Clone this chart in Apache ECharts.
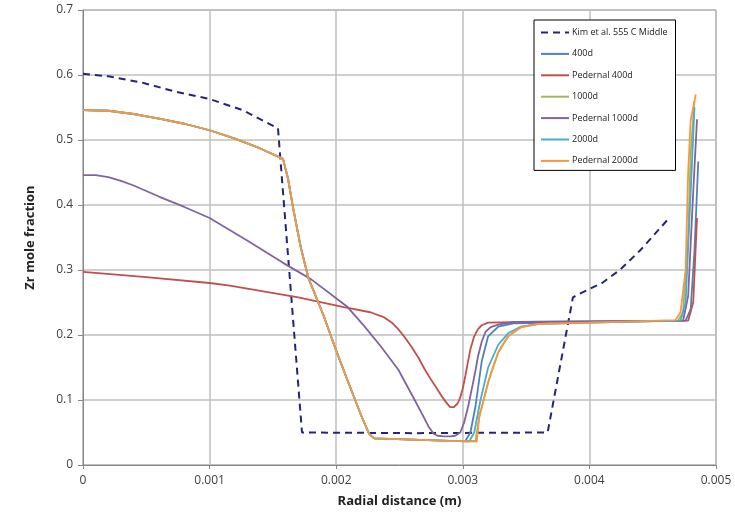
<!DOCTYPE html>
<html>
<head>
<meta charset="utf-8">
<script src="https://cdn.jsdelivr.net/npm/echarts@6/dist/echarts.min.js"></script>
<style>
  html, body { margin: 0; padding: 0; background: #fff; }
  #main { width: 735px; height: 517px; }
</style>
</head>
<body>
<div id="main"></div>
<script>
// series names as in the legend
var names = ['Kim et al. 555 C Middle', '400d', 'Pedernal 400d', '1000d', 'Pedernal 1000d', '2000d', 'Pedernal 2000d'];

// [radial distance (m), Zr mole fraction]
var kim = [[0,0.602],[0.0002,0.598],[0.00047,0.588],[0.00074,0.574],[0.001,0.563],[0.00126,0.546],[0.00154,0.518],
  [0.00173,0.05],[0.0026,0.049],[0.00367,0.05],[0.00387,0.258],[0.00395,0.266],[0.0041,0.28],[0.00424,0.30],[0.0044,0.33],[0.00463,0.38]];

var d400 = [[0,0.546],[0.0002,0.545],[0.0004,0.54],[0.0006,0.533],[0.0008,0.525],[0.001,0.515],[0.0012,0.502],[0.0014,0.487],
  [0.00158,0.471],[0.00162,0.44],[0.00166,0.395],[0.00172,0.335],[0.00178,0.288],[0.0019,0.23],[0.002,0.176],[0.0021,0.125],
  [0.0022,0.075],[0.00226,0.048],[0.0023,0.041],[0.0026,0.039],[0.0029,0.037],[0.00302,0.037],[0.00306,0.05],[0.0031,0.09],
  [0.00315,0.16],[0.0032,0.198],[0.00328,0.213],[0.0034,0.218],[0.004,0.22],[0.00476,0.222],[0.0048,0.24],[0.00483,0.33],[0.00486,0.467]];

var p400 = [[0,0.297],[0.0005,0.289],[0.001,0.28],[0.00116,0.276],[0.0017,0.258],[0.00206,0.243],[0.00227,0.235],[0.00238,0.227],
  [0.00244,0.219],[0.00249,0.209],[0.00254,0.197],[0.00259,0.183],[0.00265,0.165],[0.0027,0.147],[0.00275,0.131],[0.0028,0.116],
  [0.00284,0.104],[0.00287,0.096],[0.0029,0.089],[0.00293,0.089],[0.00296,0.095],[0.00298,0.104],[0.003,0.118],[0.00302,0.137],
  [0.00304,0.158],[0.00306,0.178],[0.00309,0.198],[0.00312,0.209],[0.00315,0.215],[0.0032,0.219],[0.0035,0.22],[0.004,0.221],
  [0.00478,0.222],[0.00482,0.25],[0.00485,0.38]];

var d1000 = [[0,0.546],[0.0002,0.545],[0.0004,0.54],[0.0006,0.533],[0.0008,0.525],[0.001,0.515],[0.0012,0.502],[0.0014,0.487],
  [0.00158,0.471],[0.00162,0.44],[0.00166,0.395],[0.00172,0.335],[0.00178,0.288],[0.0019,0.23],[0.002,0.176],[0.0021,0.125],
  [0.0022,0.075],[0.00226,0.048],[0.0023,0.041],[0.0026,0.039],[0.0029,0.037],[0.0031,0.037],[0.00313,0.074],
  [0.0032,0.127],[0.00328,0.173],[0.00336,0.198],[0.00346,0.212],[0.0036,0.217],[0.004,0.219],[0.0047,0.222],[0.00474,0.235],
  [0.00478,0.35],[0.0048,0.48],[0.00483,0.56]];

var p1000 = [[0,0.446],[0.0001,0.446],[0.0002,0.443],[0.0003,0.437],[0.0004,0.43],[0.0006,0.413],[0.0008,0.397],[0.001,0.38],
  [0.0013,0.345],[0.00158,0.311],[0.0018,0.286],[0.00201,0.255],[0.00209,0.243],[0.00222,0.214],[0.00235,0.183],[0.00249,0.147],
  [0.00262,0.1],[0.00268,0.078],[0.00273,0.059],[0.00277,0.048],[0.0028,0.045],[0.00285,0.044],[0.0029,0.044],[0.00294,0.045],
  [0.00298,0.05],[0.00301,0.065],[0.00304,0.088],[0.00307,0.116],[0.0031,0.145],[0.00312,0.167],[0.00315,0.19],[0.00318,0.205],
  [0.00322,0.212],[0.00328,0.216],[0.0034,0.22],[0.004,0.221],[0.00474,0.222],[0.00478,0.26],[0.00482,0.42],[0.00485,0.532]];

var d2000 = [[0,0.546],[0.0002,0.545],[0.0004,0.54],[0.0006,0.533],[0.0008,0.525],[0.001,0.515],[0.0012,0.502],[0.0014,0.487],
  [0.00158,0.471],[0.00162,0.44],[0.00166,0.395],[0.00172,0.335],[0.00178,0.288],[0.0019,0.23],[0.002,0.176],[0.0021,0.125],
  [0.0022,0.075],[0.00226,0.048],[0.0023,0.041],[0.0026,0.039],[0.0029,0.037],[0.00305,0.036],[0.00309,0.05],
  [0.00314,0.1],[0.0032,0.15],[0.00328,0.185],[0.00336,0.203],[0.00346,0.213],[0.0036,0.217],[0.004,0.219],[0.00472,0.222],
  [0.00476,0.25],[0.0048,0.42],[0.00483,0.55]];

var p2000 = [[0,0.546],[0.0002,0.545],[0.0004,0.54],[0.0006,0.533],[0.0008,0.525],[0.001,0.515],[0.0012,0.502],[0.0014,0.487],
  [0.00158,0.471],[0.00162,0.44],[0.00166,0.395],[0.00172,0.335],[0.00178,0.288],[0.0019,0.23],[0.002,0.176],[0.0021,0.125],
  [0.0022,0.075],[0.00226,0.048],[0.0023,0.041],[0.0026,0.039],[0.0029,0.037],[0.00311,0.036],[0.00313,0.074],
  [0.0032,0.127],[0.00324,0.152],[0.00328,0.173],[0.00332,0.187],[0.00336,0.198],[0.00341,0.206],[0.00346,0.212],[0.0036,0.217],
  [0.004,0.219],[0.00468,0.223],[0.00472,0.235],[0.00476,0.3],[0.00478,0.45],[0.0048,0.53],[0.00484,0.57]];

var colors = ['#24247E', '#4F81BD', '#C0504D', '#9BBB59', '#8064A2', '#4BACC6', '#F79646'];
var datas = [kim, d400, p400, d1000, p1000, d2000, p2000];

var series = datas.map(function (d, i) {
  return {
    name: names[i],
    type: 'line',
    data: d,
    symbol: 'none',
    smooth: false,
    lineStyle: {
      color: colors[i],
      width: i === 0 ? 2 : 1.8,
      type: i === 0 ? [7, 5] : 'solid'
    },
    itemStyle: { color: colors[i] },
    animation: false
  };
});

var chart = echarts.init(document.getElementById('main'));
chart.setOption({
  animation: false,
  grid: { left: 83, right: 19, top: 10, bottom: 52, show: true, borderColor: '#868686', borderWidth: 1 },
  legend: {
    orient: 'vertical',
    left: 534,
    top: 20,
    padding: [8, 8, 5, 6],
    itemWidth: 28,
    itemHeight: 10,
    itemGap: 12.4,
    backgroundColor: '#fff',
    borderColor: '#000',
    borderWidth: 1,
    borderRadius: 0,
    itemStyle: { opacity: 0 },
    textStyle: { fontFamily: 'Open Sans', fontSize: 9, color: '#222', padding: [0, 0, 0, -2] },
    data: names
  },
  xAxis: {
    type: 'value',
    min: 0, max: 0.005, interval: 0.001,
    name: 'Radial distance (m)',
    nameLocation: 'middle',
    nameGap: 30,
    nameTextStyle: { fontFamily: 'Open Sans', fontSize: 13, fontWeight: 'bold', color: '#222' },
    axisLine: { lineStyle: { color: '#868686' } },
    axisTick: { show: true, length: 4, lineStyle: { color: '#868686' } },
    axisLabel: { fontFamily: 'Open Sans', fontSize: 12, color: '#404040', margin: 10 },
    splitLine: { show: true, lineStyle: { color: '#BFBFBF', width: 1.5 } }
  },
  yAxis: {
    type: 'value',
    min: 0, max: 0.7, interval: 0.1,
    name: 'Zr mole fraction',
    nameLocation: 'middle',
    nameGap: 46,
    nameTextStyle: { fontFamily: 'Open Sans', fontSize: 13, fontWeight: 'bold', color: '#222' },
    axisLine: { show: true, lineStyle: { color: '#868686' } },
    axisTick: { show: true, length: 5, lineStyle: { color: '#868686' } },
    axisLabel: { fontFamily: 'Open Sans', fontSize: 12, color: '#404040', margin: 10 },
    splitLine: { show: true, lineStyle: { color: '#BFBFBF', width: 1.5 } }
  },
  series: series
});
</script>
</body>
</html>
